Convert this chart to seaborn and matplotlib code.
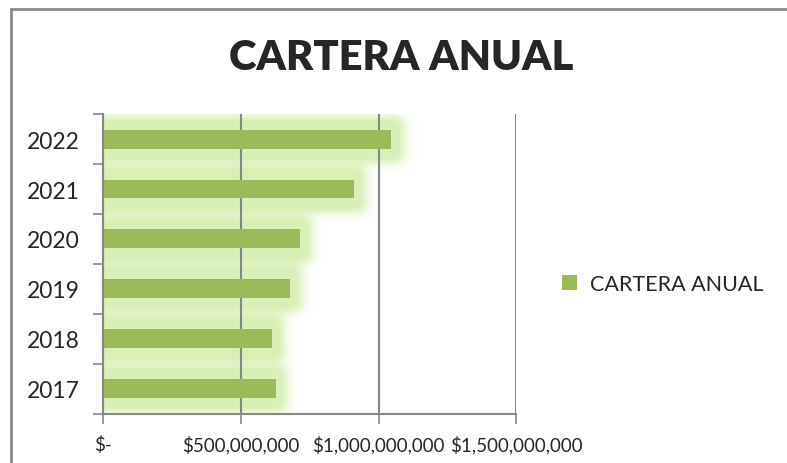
import matplotlib
matplotlib.use('Agg')
import matplotlib.pyplot as plt
import seaborn as sns
import numpy as np
import pandas as pd

years = ['2022', '2021', '2020', '2019', '2018', '2017']
cartera = [1047e6, 910e6, 714e6, 678e6, 613e6, 626e6]
xticks = [0, 500e6, 1000e6, 1500e6]
xtick_labels = ['$-', '$500,000,000', '$1,000,000,000', '$1,500,000,000']
serie = 'CARTERA ANUAL'

sns.set_style('white')
plt.rcParams['font.family'] = ['Lato', 'DejaVu Sans']

green = '#9bbb59'
glow_rgb = np.array([0.84, 0.94, 0.70])

fig = plt.figure(figsize=(7.87, 4.64), dpi=100)
ax = fig.add_axes([0.131, 0.106, 0.525, 0.646])

df = pd.DataFrame({'year': years, 'valor': cartera})
n = len(years)

# soft glow around the bars: blurred mask of enlarged bars
x0, x1 = -200e6, 1500e6
y0, y1 = -0.5, n - 0.5
nx, ny = 470, 300
xs = np.linspace(x0, x1, nx)
ys = np.linspace(y0, y1, ny)
X, Y = np.meshgrid(xs, ys)
mask = np.zeros_like(X)
for i, v in enumerate(cartera):
    mask[(np.abs(Y - i) <= 0.45) & (X <= v + 40e6)] = 1.0


def blur(a, sigma, axis):
    r = int(3 * sigma)
    k = np.exp(-0.5 * (np.arange(-r, r + 1) / sigma) ** 2)
    k /= k.sum()
    pad = [(0, 0), (0, 0)]
    pad[axis] = (r, r)
    a = np.pad(a, pad, mode='edge')
    return np.apply_along_axis(lambda m: np.convolve(m, k, mode='valid'), axis, a)


soft = blur(blur(mask, 5, 0), 6, 1)
img = np.zeros((ny, nx, 4))
img[..., :3] = glow_rgb
img[..., 3] = np.clip(soft * 1.25, 0, 1) * 0.95
ax.imshow(img, extent=(x0, x1, y1, y0), aspect='auto', interpolation='bilinear', zorder=1)

sns.barplot(data=df, x='valor', y='year', color=green, width=0.38,
            saturation=1, ax=ax, zorder=3, label=serie, edgecolor=green, linewidth=0)

ax.set_xlim(0, 1500e6)
ax.set_ylim(n - 0.5, -0.5)
ax.set_xticks(xticks)
ax.set_xticklabels(xtick_labels, fontsize=13.5)
ax.set_yticks(np.arange(n + 1) - 0.5, minor=False)
ax.set_yticklabels([])
ax.set_yticks(np.arange(n), minor=True)
ax.set_yticklabels(years, minor=True, fontsize=16.5)
ax.tick_params(axis='y', which='minor', length=0, pad=17)
ax.tick_params(axis='y', which='major', length=7, width=1.2, color='#868686', direction='out', left=True)
ax.tick_params(axis='x', length=7, width=1.2, color='#868686', direction='out', bottom=True, pad=8)
ax.set_axisbelow(False)
ax.grid(axis='x', color='#868686', lw=1.5)
for s in ['top', 'right']:
    ax.spines[s].set_visible(False)
for s in ['left', 'bottom']:
    ax.spines[s].set_color('#868686')
    ax.spines[s].set_linewidth(1.5)
    ax.spines[s].set_zorder(4)
ax.set_xlabel('')
ax.set_ylabel('')

handles, labels = ax.get_legend_handles_labels()
fig.legend(handles[-1:], labels[-1:], loc='center left', bbox_to_anchor=(0.69, 0.385),
           frameon=False, fontsize=15.5, handlelength=0.7, handleheight=0.7, handletextpad=0.6)
if ax.legend_:
    ax.legend_.remove()

fig.text(0.51, 0.875, 'CARTERA ANUAL', ha='center', va='center', fontsize=30, fontweight='heavy')

border = plt.Rectangle((11 / 787, -0.1), 1.2, 1.1 - 10 / 464, transform=fig.transFigure,
                       fill=False, edgecolor='#888888', lw=2)
fig.add_artist(border)

fig.savefig('out.png', dpi=100)
